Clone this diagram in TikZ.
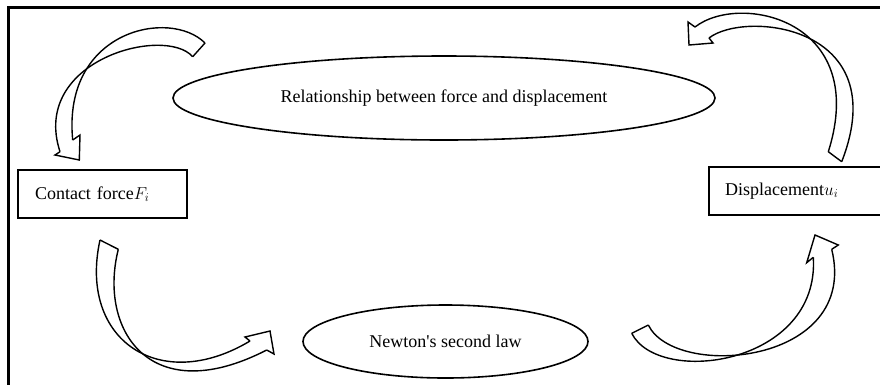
\documentclass[tikz,border=0pt]{standalone}
\usepackage{fontspec}
\setmainfont{Liberation Serif}
\usetikzlibrary{shapes.geometric}
\begin{document}
\begin{tikzpicture}[x=1pt,y=-1pt,
  frameline/.style={line width=2.6pt},
  oval/.style={draw,ellipse,line width=1.6pt,inner sep=0pt,font=\fontsize{18}{22}\selectfont},
  boxnode/.style={rectangle,minimum height=48pt,align=left,inner ysep=0pt,font=\fontsize{18}{22}\selectfont},
  boxline/.style={line width=1.5pt},
  barrow/.style={draw,line width=1.4pt,line join=miter}]
\useasboundingbox (0,0) rectangle (880,384);
\clip (0,0) rectangle (880,384);
\fill[white] (0,0) rectangle (880,384);
% frame
\draw[frameline] (8.7,400) -- (8.7,7.2) -- (900,7.2);
% nodes
\node[oval,minimum width=542pt,minimum height=84pt] (rel) at (444,98) {Relationship between force and displacement};
\node[oval,minimum width=285pt,minimum height=73pt] (newton) at (445.5,341.5) {Newton\textquotesingle s second law};
\node[boxnode,draw,boxline,text width=135pt,inner xsep=17pt] (cf) at (102.5,194) {Contact force$F_i$};
\node[boxnode,text width=200pt,inner xsep=16pt,anchor=west] (disp) at (709,191) {Displacement$u_i$};
\draw[boxline] (disp.north east) -- (disp.north west) -- (disp.south west) -- (disp.south east);
% top-left curved arrow
\coordinate (tlT1) at (205,43);
\coordinate (tlT2) at (192.7,56.7);
\draw[barrow] (tlT2) -- (tlT1);
\draw[barrow] (tlT1) .. controls (170,8) and (62,30) .. (72.7,140);
\draw[barrow] (tlT2) .. controls (165,25) and (30,60) .. (60,151.7);
\draw[barrow] (60,151.7) -- (55,155) -- (79.3,160) -- (80,135) -- (72.7,140);
% top-right curved arrow
\coordinate (trT1) at (828.3,151.7);
\coordinate (trT2) at (841.7,161.7);
\draw[barrow] (trT1) -- (trT2);
\draw[barrow] (695,27) .. controls (740,-8) and (870,20) .. (trT1);
\draw[barrow] (709,38) .. controls (745,10) and (895,25) .. (trT2);
\draw[barrow] (695,27) -- (688,22) -- (689,45) -- (713,43) -- (709,38);
% bottom-left curved arrow
\coordinate (blT1) at (100,240);
\coordinate (blT2) at (118.3,249.3);
\draw[barrow] (blT1) -- (blT2);
\draw[barrow] (blT1) .. controls (78,340) and (160,395) .. (250,341);
\draw[barrow] (blT2) .. controls (98,330) and (150,410) .. (266.7,350);
\draw[barrow] (250,341) -- (245,337) -- (270,331) -- (274,354) -- (266.7,350);
% bottom-right curved arrow
\coordinate (brT1) at (631.7,333.3);
\coordinate (brT2) at (648.3,325);
\draw[barrow] (brT1) -- (brT2);
\draw[barrow] (brT1) .. controls (658.7,386.7) and (820,365) .. (813.3,257.3);
\draw[barrow] (brT2) .. controls (675,380) and (860,365) .. (831.7,249.3);
\draw[barrow] (813.3,257.3) -- (806.7,262.7) -- (815,235) -- (838.3,245) -- (831.7,249.3);
\end{tikzpicture}
\end{document}
